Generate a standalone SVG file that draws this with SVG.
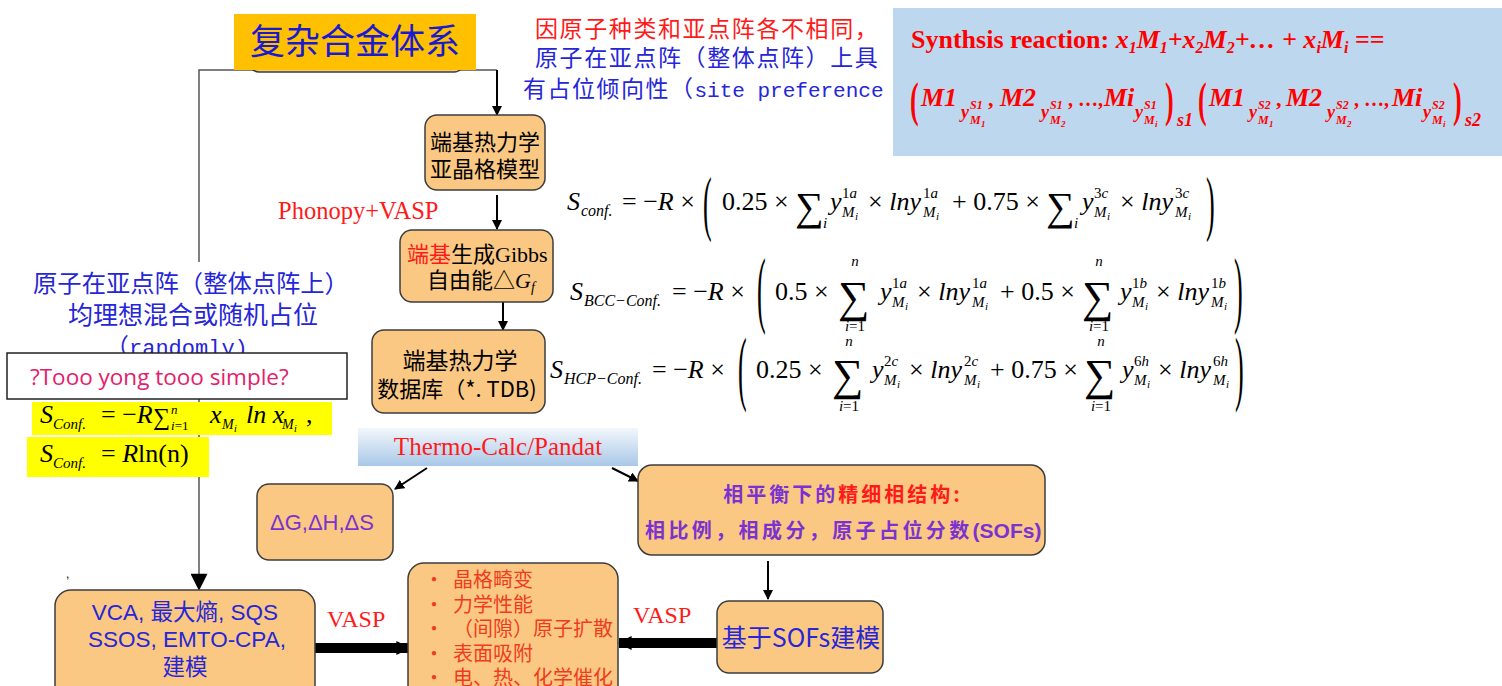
<svg xmlns="http://www.w3.org/2000/svg" width="1502" height="686" viewBox="0 0 1502 686">
<style>
.node{fill:#FAC882;stroke:#3c3c3c;stroke-width:1.5}
.cjk{font-family:"Noto Sans CJK SC",sans-serif}
.sans{font-family:"Liberation Sans","Noto Sans CJK SC",sans-serif}
.serif{font-family:"Liberation Serif","Noto Sans CJK SC",serif}
.mono{font-family:"Liberation Mono","Noto Sans CJK SC",monospace}
.eq{font-family:"Liberation Serif","DejaVu Serif",serif;font-size:26px;fill:#000}
.it{font-style:italic}
.s16{font-size:16px}
.s15{font-size:15px}
.s11{font-size:11px}
.blue{fill:#2626D8}
.red{fill:#FF1A1A}
.pur{fill:#7A32D0}
.orr{fill:#F03C1E}
.conn{stroke:#000;stroke-width:2;fill:none}
.thin{stroke:#555;stroke-width:1.5;fill:none}
.syn{font-family:"Liberation Serif","DejaVu Serif",serif;font-weight:bold;fill:#FF0000}
</style>
<defs>
<marker id="ah" viewBox="0 0 10 10" refX="9" refY="5" markerWidth="10" markerHeight="10" markerUnits="userSpaceOnUse" orient="auto"><path d="M0,0 L10,5 L0,10 z" fill="#000"/></marker>
<marker id="ahb" viewBox="0 0 10 10" refX="9" refY="5" markerWidth="18" markerHeight="17" markerUnits="userSpaceOnUse" orient="auto"><path d="M0,0 L10,5 L0,10 z" fill="#000"/></marker>
<marker id="ahk" viewBox="0 0 10 10" refX="9" refY="5" markerWidth="14" markerHeight="22" markerUnits="userSpaceOnUse" orient="auto"><path d="M0,0 L10,5 L0,10 z" fill="#000"/></marker>
<linearGradient id="tc" x1="0" y1="0" x2="0" y2="1"><stop offset="0" stop-color="#F3F7FC"/><stop offset="1" stop-color="#A9C8E8"/></linearGradient>
</defs>

<g id="connectors">
<path class="thin" d="M497,70 H199 V574"/>
<path d="M199,574 L199,589" stroke="#555" stroke-width="1.5" marker-end="url(#ahb)"/>
<line class="conn" x1="497" y1="70" x2="497" y2="115" marker-end="url(#ah)"/>
<line class="conn" x1="497" y1="195" x2="497" y2="229" marker-end="url(#ah)"/>
<line class="conn" x1="503" y1="302" x2="503" y2="330" marker-end="url(#ah)"/>
<line class="conn" x1="427" y1="468" x2="395" y2="489" marker-end="url(#ah)"/>
<line class="conn" x1="612" y1="468" x2="638" y2="481" marker-end="url(#ah)"/>
<line class="conn" x1="768" y1="561" x2="768" y2="599" marker-end="url(#ah)"/>
<line x1="315" y1="648" x2="409" y2="648" stroke="#000" stroke-width="10" marker-end="url(#ahk)"/>
<line x1="717" y1="643" x2="619" y2="643" stroke="#000" stroke-width="10" marker-end="url(#ahk)"/>
<text x="327" y="627" class="serif red" font-size="24">VASP</text>
<text x="633" y="623" class="serif red" font-size="24">VASP</text>
<text x="278" y="219" class="serif red" font-size="24.5">Phonopy+VASP</text>
</g>

<g id="title">
<rect x="249" y="22" width="215" height="50" rx="10" class="node"/>
<rect x="234" y="14" width="242" height="56" fill="#FFC000"/>
<text x="355" y="54" text-anchor="middle" class="cjk" font-size="35" fill="#1A1AD0">复杂合金体系</text>
</g>

<g id="note-top">
<text x="535" y="37" class="cjk red" font-size="23" letter-spacing="1.6">因原子种类和亚点阵各不相同，</text>
<text x="535" y="66" class="cjk blue" font-size="23" letter-spacing="1.6">原子在亚点阵（整体点阵）上具</text>
<text x="523" y="97" class="cjk blue" font-size="23" letter-spacing="1.5">有占位倾向性（<tspan class="mono" font-size="21" letter-spacing="0">site preference</tspan></text>
</g>

<g id="synthesis">
<rect x="893" y="8" width="609" height="148" fill="#BDD7EE"/>
<text x="911" y="48" class="syn" font-size="26">Synthsis reaction: <tspan font-style="italic">x<tspan font-size="16" dy="5">1</tspan><tspan dy="-5">M</tspan><tspan font-size="16" dy="5">1</tspan><tspan dy="-5">+x</tspan><tspan font-size="16" dy="5">2</tspan><tspan dy="-5">M</tspan><tspan font-size="16" dy="5">2</tspan><tspan dy="-5">+… + x</tspan><tspan font-size="16" dy="5">i</tspan><tspan dy="-5">M</tspan><tspan font-size="16" dy="5">i</tspan><tspan dy="-5" font-style="normal"> ==</tspan></tspan></text>
<g class="syn" font-style="italic">
<text transform="translate(910,116) scale(1,1.9)" font-size="26" font-style="normal">(</text>
<text x="921" y="106" font-size="26">M1</text>
<text x="961" y="118" font-size="18">y</text><text x="970" y="109" font-size="12">S1</text><text x="970" y="124" font-size="12">M</text><text x="981" y="127" font-size="9">1</text>
<text x="988" y="106" font-size="22" font-style="normal">,</text>
<text x="1000" y="106" font-size="26">M2</text>
<text x="1041" y="118" font-size="18">y</text><text x="1050" y="109" font-size="12">S1</text><text x="1050" y="124" font-size="12">M</text><text x="1061" y="127" font-size="9">2</text>
<text x="1068" y="106" font-size="20" font-style="normal">, …,</text>
<text x="1104" y="106" font-size="26">Mi</text>
<text x="1135" y="118" font-size="18">y</text><text x="1144" y="109" font-size="12">S1</text><text x="1144" y="124" font-size="12">M</text><text x="1155" y="127" font-size="9">i</text>
<text transform="translate(1165,116) scale(1,1.9)" font-size="26" font-style="normal">)</text>
<text x="1177" y="126" font-size="18">s1</text>
<text transform="translate(1198,116) scale(1,1.9)" font-size="26" font-style="normal">(</text>
<text x="1209" y="106" font-size="26">M1</text>
<text x="1249" y="118" font-size="18">y</text><text x="1258" y="109" font-size="12">S2</text><text x="1258" y="124" font-size="12">M</text><text x="1269" y="127" font-size="9">1</text>
<text x="1276" y="106" font-size="22" font-style="normal">,</text>
<text x="1286" y="106" font-size="26">M2</text>
<text x="1327" y="118" font-size="18">y</text><text x="1336" y="109" font-size="12">S2</text><text x="1336" y="124" font-size="12">M</text><text x="1347" y="127" font-size="9">2</text>
<text x="1354" y="106" font-size="20" font-style="normal">, …,</text>
<text x="1392" y="106" font-size="26">Mi</text>
<text x="1423" y="118" font-size="18">y</text><text x="1432" y="109" font-size="12">S2</text><text x="1432" y="124" font-size="12">M</text><text x="1443" y="127" font-size="9">i</text>
<text transform="translate(1453,116) scale(1,1.9)" font-size="26" font-style="normal">)</text>
<text x="1465" y="126" font-size="18">s2</text>
</g>
</g>

<g id="node-sublattice">
<rect x="425" y="115" width="120" height="75" rx="12" class="node"/>
<text x="485" y="150" text-anchor="middle" class="cjk" font-size="22">端基热力学</text>
<text x="485" y="177" text-anchor="middle" class="cjk" font-size="22">亚晶格模型</text>
</g>

<g id="node-gibbs">
<rect x="400" y="230" width="153" height="72" rx="12" class="node"/>
<text x="407" y="262" class="serif" font-size="22"><tspan class="cjk red">端基</tspan><tspan class="cjk">生成</tspan>Gibbs</text>
<text x="427" y="288" class="cjk" font-size="22">自由能△<tspan class="serif it">G</tspan><tspan class="serif it" font-size="14" dy="4">f</tspan></text>
</g>

<g id="node-tdb">
<rect x="372" y="330" width="173" height="83" rx="12" class="node"/>
<text x="460" y="369" text-anchor="middle" class="cjk" font-size="23">端基热力学</text>
<text x="457" y="397" text-anchor="middle" class="cjk" font-size="22">数据库（*. TDB)</text>
</g>

<g id="equations" class="eq">
<text x="567" y="210" class="it">S</text><text x="581" y="216" class="it s16">conf.</text>
<text x="622" y="210">= −<tspan class="it">R</tspan> ×</text>
<text transform="translate(703,227) scale(1,2.75)">(</text>
<text x="722" y="210">0.25 ×</text>
<text x="795" y="220" font-size="40">∑</text><text x="823" y="228" class="it s15">i</text>
<text x="830" y="210" class="it">y</text><text x="842" y="198" class="s15">1<tspan class="it">a</tspan></text><text x="842" y="217" class="it s15">M</text><text x="855" y="220" class="it s11">i</text>
<text x="868" y="210">× <tspan class="it">lny</tspan></text><text x="923" y="198" class="s15">1<tspan class="it">a</tspan></text><text x="923" y="217" class="it s15">M</text><text x="936" y="220" class="it s11">i</text>
<text x="952" y="210">+ 0.75 ×</text>
<text x="1046" y="220" font-size="40">∑</text><text x="1074" y="228" class="it s15">i</text>
<text x="1082" y="210" class="it">y</text><text x="1094" y="198" class="s15">3<tspan class="it">c</tspan></text><text x="1094" y="217" class="it s15">M</text><text x="1107" y="220" class="it s11">i</text>
<text x="1120" y="210">× <tspan class="it">lny</tspan></text><text x="1175" y="198" class="s15">3<tspan class="it">c</tspan></text><text x="1175" y="217" class="it s15">M</text><text x="1188" y="220" class="it s11">i</text>
<text transform="translate(1206,227) scale(1,2.75)">)</text>

<text x="570" y="300" class="it">S</text><text x="584" y="306" class="it s16">BCC−Conf.</text>
<text x="672" y="300">= −<tspan class="it">R</tspan> ×</text>
<text transform="translate(757,317) scale(1,3.27)">(</text>
<text x="775" y="300">0.5 ×</text>
<text x="838" y="312" font-size="44">∑</text><text x="855" y="266" text-anchor="middle" class="it s15">n</text><text x="855" y="331" text-anchor="middle" class="s15"><tspan class="it">i</tspan>=1</text>
<text x="880" y="300" class="it">y</text><text x="892" y="288" class="s15">1<tspan class="it">a</tspan></text><text x="892" y="307" class="it s15">M</text><text x="905" y="310" class="it s11">i</text>
<text x="917" y="300">× <tspan class="it">lny</tspan></text><text x="972" y="288" class="s15">1<tspan class="it">a</tspan></text><text x="972" y="307" class="it s15">M</text><text x="985" y="310" class="it s11">i</text>
<text x="1000" y="300">+ 0.5 ×</text>
<text x="1082" y="312" font-size="44">∑</text><text x="1099" y="266" text-anchor="middle" class="it s15">n</text><text x="1099" y="331" text-anchor="middle" class="s15"><tspan class="it">i</tspan>=1</text>
<text x="1120" y="300" class="it">y</text><text x="1132" y="288" class="s15">1<tspan class="it">b</tspan></text><text x="1132" y="307" class="it s15">M</text><text x="1145" y="310" class="it s11">i</text>
<text x="1156" y="300">× <tspan class="it">lny</tspan></text><text x="1211" y="288" class="s15">1<tspan class="it">b</tspan></text><text x="1211" y="307" class="it s15">M</text><text x="1224" y="310" class="it s11">i</text>
<text transform="translate(1234,317) scale(1,3.27)">)</text>

<text x="550" y="378" class="it">S</text><text x="564" y="384" class="it s16">HCP−Conf.</text>
<text x="652" y="378">= −<tspan class="it">R</tspan> ×</text>
<text transform="translate(738,395) scale(1,3.2)">(</text>
<text x="756" y="378">0.25 ×</text>
<text x="832" y="390" font-size="44">∑</text><text x="849" y="346" text-anchor="middle" class="it s15">n</text><text x="849" y="411" text-anchor="middle" class="s15"><tspan class="it">i</tspan>=1</text>
<text x="872" y="378" class="it">y</text><text x="884" y="366" class="s15">2<tspan class="it">c</tspan></text><text x="884" y="385" class="it s15">M</text><text x="897" y="388" class="it s11">i</text>
<text x="909" y="378">× <tspan class="it">lny</tspan></text><text x="964" y="366" class="s15">2<tspan class="it">c</tspan></text><text x="964" y="385" class="it s15">M</text><text x="977" y="388" class="it s11">i</text>
<text x="990" y="378">+ 0.75 ×</text>
<text x="1084" y="390" font-size="44">∑</text><text x="1101" y="346" text-anchor="middle" class="it s15">n</text><text x="1101" y="411" text-anchor="middle" class="s15"><tspan class="it">i</tspan>=1</text>
<text x="1122" y="378" class="it">y</text><text x="1134" y="366" class="s15">6<tspan class="it">h</tspan></text><text x="1134" y="385" class="it s15">M</text><text x="1147" y="388" class="it s11">i</text>
<text x="1158" y="378">× <tspan class="it">lny</tspan></text><text x="1213" y="366" class="s15">6<tspan class="it">h</tspan></text><text x="1213" y="385" class="it s15">M</text><text x="1226" y="388" class="it s11">i</text>
<text transform="translate(1235,395) scale(1,3.2)">)</text>
</g>

<g id="random-note">
<rect x="28" y="262" width="330" height="90" fill="#fff"/>
<text x="191" y="292" text-anchor="middle" class="cjk blue" font-size="24.3">原子在亚点阵（整体点阵上）</text>
<text x="193" y="324" text-anchor="middle" class="cjk blue" font-size="25">均理想混合或随机占位</text>
<text x="105" y="355" class="cjk blue" font-size="24">（<tspan class="mono" font-size="22">randomly)</tspan></text>
</g>

<g id="simple-box">
<rect x="7" y="353" width="340" height="46" fill="#fff" stroke="#222" stroke-width="1.5"/>
<text x="30" y="385" font-family="Open Sans, Liberation Sans, sans-serif" font-size="22.5" fill="#E3206A">?Tooo yong tooo simple?</text>
</g>

<g id="ideal-entropy">
<rect x="32" y="402" width="300" height="33" fill="#FFFF00"/>
<rect x="27" y="437" width="182" height="40" fill="#FFFF00"/>
<g class="eq" font-size="23">
<text x="40" y="423" class="it">S</text><text x="53" y="429" class="it" font-size="15">Conf.</text>
<text x="101" y="423">= −<tspan class="it">R</tspan></text>
<text x="153" y="425" font-size="24">∑</text><text x="171" y="414" class="it" font-size="13">n</text><text x="171" y="430" font-size="13"><tspan class="it">i</tspan>=1</text>
<text x="210" y="423" class="it">x</text><text x="222" y="429" class="it" font-size="14">M</text><text x="234" y="432" class="it" font-size="10">i</text>
<text x="246" y="423" class="it">ln x</text><text x="282" y="429" class="it" font-size="14">M</text><text x="294" y="432" class="it" font-size="10">i</text>
<text x="306" y="423">,</text>
<text x="40" y="462" class="it">S</text><text x="53" y="468" class="it" font-size="15">Conf.</text>
<text x="101" y="462">= <tspan class="it">R</tspan>ln(n)</text>
</g>
</g>

<g id="thermocalc">
<rect x="358" y="428" width="280" height="38" fill="url(#tc)"/>
<text x="498" y="455" text-anchor="middle" class="serif red" font-size="25">Thermo-Calc/Pandat</text>
</g>

<g id="node-dgdhds">
<rect x="257" y="484" width="136" height="76" rx="12" class="node"/>
<text x="322" y="530" text-anchor="middle" class="sans pur" font-size="22">ΔG,ΔH,ΔS</text>
</g>

<g id="node-phase">
<rect x="638" y="465" width="407" height="90" rx="14" class="node"/>
<text x="843" y="502" text-anchor="middle" class="cjk pur" font-size="20" font-weight="bold" letter-spacing="3">相平衡下的<tspan class="red">精细相结构:</tspan></text>
<text x="645" y="538" class="cjk pur" font-size="20" font-weight="bold" letter-spacing="3.4">相比例，相成分，原子占位分数<tspan class="sans" font-size="21" letter-spacing="0">(SOFs)</tspan></text>
</g>

<g id="node-sofs">
<rect x="717" y="601" width="166" height="72" rx="12" class="node"/>
<text x="801" y="647" text-anchor="middle" class="cjk blue" font-size="25">基于SOFs建模</text>
</g>

<g id="node-properties">
<rect x="408" y="563" width="210" height="140" rx="16" class="node"/>
<g class="cjk orr" font-size="20">
<text x="424" y="587">•</text><text x="453" y="587">晶格畸变</text>
<text x="424" y="612">•</text><text x="453" y="612">力学性能</text>
<text x="424" y="636">•</text><text x="453" y="636">（间隙）原子扩散</text>
<text x="424" y="661">•</text><text x="453" y="661">表面吸附</text>
<text x="424" y="685">•</text><text x="453" y="685">电、热、化学催化</text>
</g>
</g>

<g id="node-vca">
<rect x="55" y="590" width="260" height="115" rx="16" class="node"/>
<g class="sans blue" font-size="22.5" text-anchor="middle">
<text x="185" y="620">VCA, 最大熵, SQS</text>
<text x="187" y="647">SSOS, EMTO-CPA,</text>
<text x="185" y="675">建模</text>
</g>
</g>
<text x="66" y="578" class="sans" font-size="12">,</text>
</svg>
